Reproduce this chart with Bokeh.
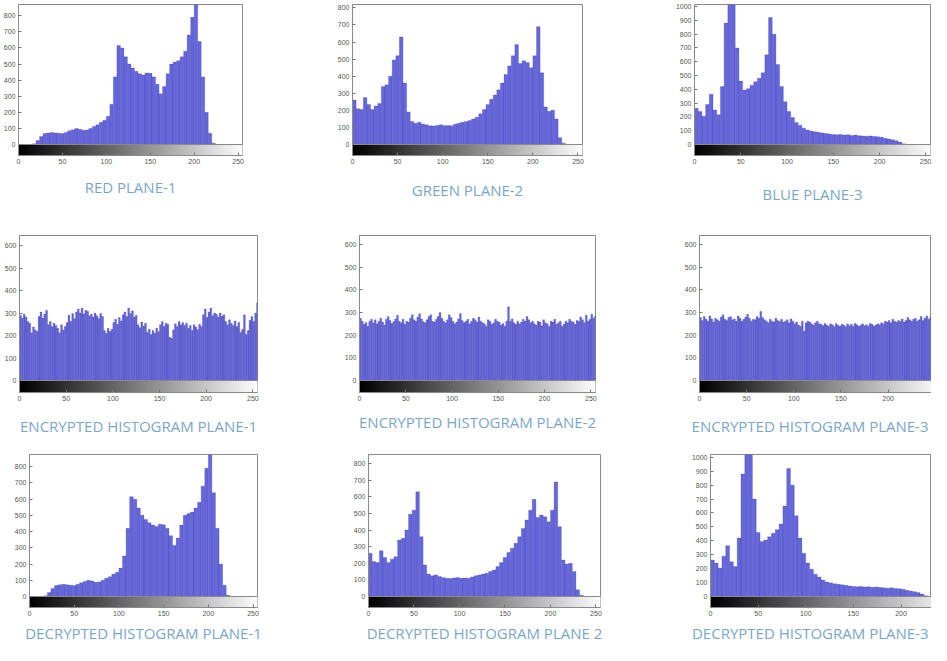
import numpy as np
from bokeh.plotting import figure
from bokeh.layouts import column, row
from bokeh.models import Range1d, FixedTicker, Span, LinearColorMapper
from bokeh.embed import file_html
from bokeh.resources import INLINE

# ---------------- data ----------------
levels = list(range(256))
x_ticks = [0, 50, 100, 150, 200, 250]

# original planes: counts in 4-level bins (0-3, 4-7, ..., 252-255)
red_counts = [0, 0, 0, 0, 5, 25, 50, 68, 72, 75, 72, 70, 68, 75, 85, 92,
              100, 95, 88, 90, 100, 112, 122, 138, 150, 175, 250, 420, 615, 600, 545, 500,
              475, 455, 440, 432, 445, 442, 420, 375, 315, 360, 440, 500, 512, 520, 545, 580,
              680, 790, 900, 640, 420, 200, 70, 8, 0, 0, 0, 0, 0, 0, 0, 0]

green_counts = [260, 210, 205, 275, 235, 205, 225, 240, 340, 350, 400, 495, 520, 630, 360, 190,
                135, 125, 130, 120, 115, 110, 108, 112, 115, 110, 112, 110, 118, 125, 130, 135,
                140, 150, 160, 180, 205, 235, 265, 290, 320, 360, 410, 460, 520, 585, 475, 490,
                480, 450, 520, 690, 420, 220, 195, 200, 150, 40, 8, 0, 0, 0, 0, 0]

blue_counts = [262, 240, 205, 290, 365, 250, 215, 420, 880, 1150, 1120, 700, 460, 395, 405, 430,
               455, 480, 520, 650, 920, 800, 580, 420, 310, 240, 195, 160, 140, 118, 105, 98,
               92, 88, 84, 80, 76, 72, 70, 72, 68, 70, 66, 68, 64, 62, 60, 62,
               58, 56, 52, 45, 40, 35, 28, 18, 5, 0, 0, 0, 0, 0, 0, 0]

# encrypted planes: counts in 2-level bins (0-1, 2-3, ..., 254-255)
enc1_counts = [290, 278, 295, 282, 262, 255, 212, 238, 225, 218, 285, 305, 278, 296, 312, 248,
               262, 240, 255, 245, 232, 212, 248, 225, 240, 258, 290, 262, 298, 275, 305, 318,
               300, 322, 296, 312, 308, 288, 295, 282, 300, 288, 276, 298, 285, 222, 210, 232,
               218, 228, 258, 272, 250, 280, 265, 292, 305, 285, 322, 298, 310, 282, 290, 248,
               235, 260, 242, 255, 215, 228, 205, 222, 210, 232, 218, 248, 262, 240, 255, 250,
               192, 188, 225, 252, 240, 262, 248, 258, 245, 255, 232, 245, 222, 248, 238, 226,
               250, 240, 292, 318, 280, 305, 322, 288, 300, 295, 282, 300, 286, 292, 262, 248,
               270, 255, 245, 265, 240, 258, 215, 228, 292, 205, 222, 268, 285, 262, 300, 345]

enc2_counts = [275, 262, 248, 256, 240, 262, 270, 255, 268, 250, 262, 275, 258, 245, 270, 282,
               265, 252, 260, 272, 288, 262, 255, 270, 248, 262, 258, 275, 290, 268, 262, 280,
               295, 272, 260, 255, 268, 282, 290, 262, 258, 270, 282, 300, 275, 262, 255, 268,
               290, 278, 262, 250, 258, 272, 296, 265, 255, 262, 270, 250, 262, 275, 268, 258,
               280, 262, 255, 250, 240, 268, 262, 248, 255, 270, 262, 258, 245, 252, 240, 262,
               325, 262, 272, 255, 248, 262, 250, 258, 270, 262, 282, 268, 255, 262, 250, 245,
               262, 258, 242, 268, 255, 250, 238, 262, 258, 270, 248, 255, 262, 240, 248, 262,
               255, 270, 262, 258, 248, 265, 262, 280, 268, 255, 288, 262, 270, 292, 275, 285]

enc3_counts = [278, 265, 282, 270, 262, 285, 272, 258, 275, 268, 262, 280, 290, 270, 265, 278,
               282, 268, 272, 262, 285, 275, 262, 270, 280, 292, 275, 262, 270, 268, 282, 275,
               305, 278, 268, 262, 255, 270, 262, 258, 275, 265, 260, 270, 258, 262, 268, 255,
               272, 262, 250, 258, 245, 240, 262, 218, 255, 262, 258, 250, 245, 255, 262, 250,
               248, 242, 252, 245, 240, 250, 246, 238, 252, 244, 240, 248, 245, 238, 250, 242,
               248, 240, 252, 246, 238, 245, 250, 242, 246, 240, 252, 248, 240, 245, 250, 246,
               255, 250, 262, 258, 265, 255, 270, 262, 258, 265, 262, 272, 258, 265, 278, 268,
               262, 270, 275, 262, 268, 282, 265, 275, 285, 270, 278, 292, 280, 288, 296, 302]

ticks_800 = [0, 100, 200, 300, 400, 500, 600, 700, 800]
ticks_1000 = [0, 100, 200, 300, 400, 500, 600, 700, 800, 900, 1000]
ticks_600 = [0, 100, 200, 300, 400, 500, 600]

titles = ["RED PLANE-1", "GREEN PLANE-2", "BLUE PLANE-3",
          "ENCRYPTED HISTOGRAM PLANE-1", "ENCRYPTED HISTOGRAM PLANE-2", "ENCRYPTED HISTOGRAM PLANE-3",
          "DECRYPTED HISTOGRAM PLANE-1", "DECRYPTED HISTOGRAM PLANE 2", "DECRYPTED HISTOGRAM PLANE-3"]
y_max = [870, 820, 1015, 645, 640, 640, 875, 855, 1020]
x_max = [255, 255, 255, 255, 255, 246, 255, 255, 232]
series = [red_counts, green_counts, blue_counts, enc1_counts, enc2_counts, enc3_counts,
          red_counts, green_counts, blue_counts]
y_ticks = [ticks_800, ticks_800, ticks_1000, ticks_600, ticks_600, ticks_600,
           ticks_800, ticks_800, ticks_1000]

# ---------------- layout (pixels) ----------------
# rows: (border_top, frame_h, border_bottom, bar_px)
row_geom = [(4, 151, 73, 11), (7, 157, 54, 12), (8, 153, 38, 11)]
# panels: (border_left, frame_w, border_right, title_standoff, title_align)
col_geom = [
    (17, 225, 90, 16, "center"), (20, 230, 90, 22, "center"), (21, 237, 1, 30, "center"),
    (19, 238, 75, 20, "center"), (27, 236, 77, 12, "center"), (27, 232, 0, 20, "right"),
    (29, 228, 75, 4, "center"), (36, 232, 72, 4, "center"), (38, 221, 0, 4, "right"),
]

gray_palette = ["#%02x%02x%02x" % (v, v, v) for v in levels]
tick_font = "Liberation Sans"


def panel(i):
    bt, fh, bb, bar_px = row_geom[i // 3]
    bl, fw, br, t_standoff, t_align = col_geom[i]
    ymax = y_max[i]
    ystart = -ymax * bar_px / (fh - bar_px)
    p = figure(width=bl + fw + br, height=bt + fh + bb,
               x_range=Range1d(0, x_max[i]), y_range=Range1d(ystart, ymax),
               output_backend="svg", toolbar_location=None,
               min_border_left=bl, min_border_right=br,
               min_border_top=bt, min_border_bottom=bb,
               title=titles[i], title_location="below")
    p.title.align = t_align
    if t_align == "right":
        p.title.offset = 3
    p.title.text_font = "Open Sans"
    p.title.text_font_size = "15px"
    p.title.text_font_style = "normal"
    p.title.text_color = "#7aa7c9"
    p.title.standoff = t_standoff
    p.grid.visible = False
    p.outline_line_color = "#8a8a8a"
    p.background_fill_color = "white"
    p.border_fill_color = "white"

    for ax in (p.xaxis[0], p.yaxis[0]):
        ax.major_label_text_font = tick_font
        ax.major_label_text_font_size = "7px"
        ax.major_label_text_color = "#555555"
        ax.major_tick_in = 3
        ax.major_tick_out = 0
        ax.minor_tick_line_color = None
        ax.major_tick_line_color = "#777777"
        ax.axis_line_color = "#8a8a8a"
        ax.major_label_standoff = 3
    p.xaxis[0].ticker = FixedTicker(ticks=x_ticks)
    p.yaxis[0].ticker = FixedTicker(ticks=y_ticks[i])

    counts = series[i]
    step = 256 // len(counts)
    centers = [k * step + step / 2 for k in range(len(counts))]
    p.vbar(x=centers, top=counts, bottom=0, width=step,
           fill_color="#6767dc", line_color="#2e2e96", line_width=0.5, line_alpha=0.45)

    mapper = LinearColorMapper(palette=gray_palette, low=0, high=255)
    p.image(image=[np.array([levels], dtype=float)], x=0, y=ystart, dw=256, dh=-ystart,
            color_mapper=mapper)
    p.add_layout(Span(location=0, dimension="width", line_color="#8a8a8a", line_width=1))
    return p


figs = [panel(i) for i in range(9)]
layout = column(row(figs[0:3]), row(figs[3:6]), row(figs[6:9]))

open("out.html", "w").write(file_html(layout, INLINE))
